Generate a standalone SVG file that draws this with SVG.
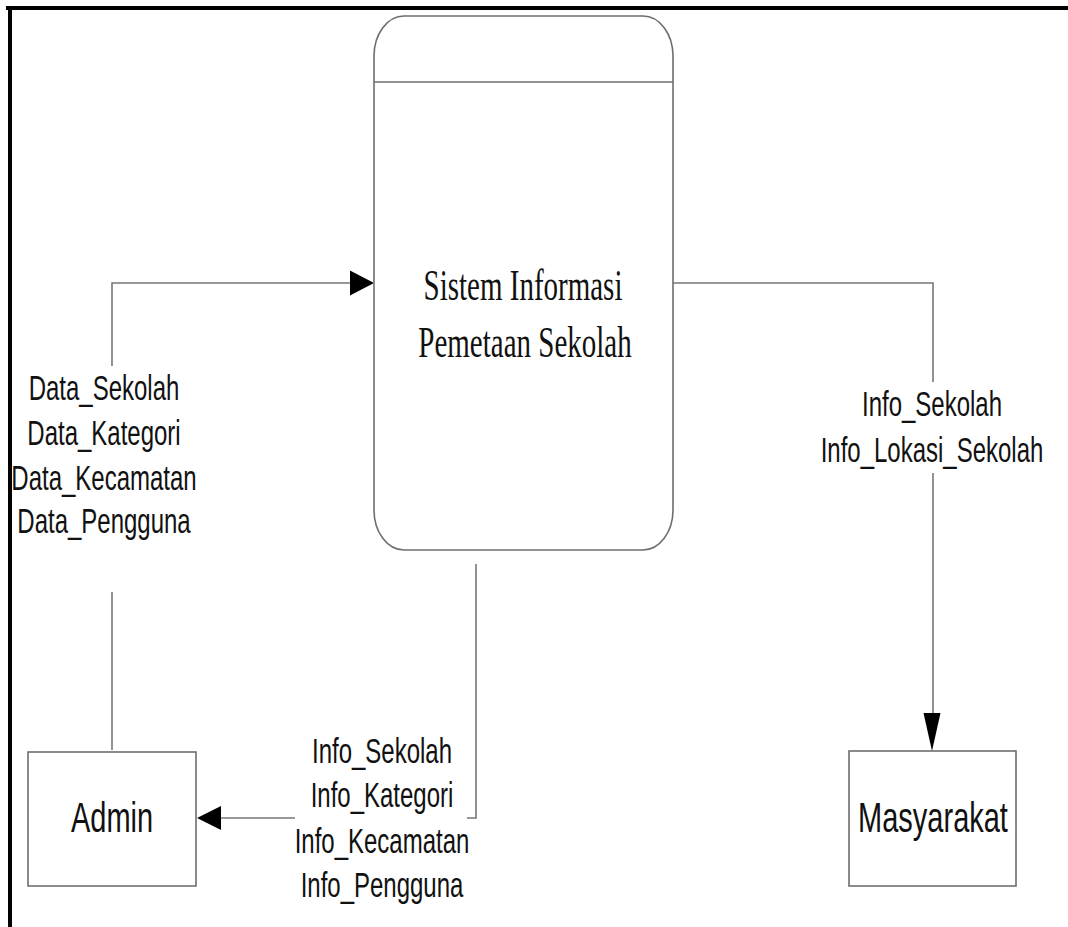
<svg xmlns="http://www.w3.org/2000/svg" width="1068" height="927" viewBox="0 0 1068 927">
<defs>
<style>
.shape{fill:#fff;stroke:#6e6e6e;stroke-width:1.6}
.ln{fill:none;stroke:#777;stroke-width:1.6}
.lbl{font-family:"Liberation Sans",Arial,sans-serif;font-size:24px;fill:#111;text-anchor:middle}
.ent{font-family:"Liberation Sans",Arial,sans-serif;font-size:29px;fill:#111;text-anchor:middle}
.ttl{font-family:"Liberation Serif","Times New Roman",serif;font-size:29px;fill:#111;text-anchor:middle}
.ah{fill:#000}
</style>
</defs>
<rect x="0" y="0" width="1068" height="927" fill="#fff"/>
<g id="frame">
<line x1="6" y1="8" x2="1068" y2="8" stroke="#000" stroke-width="4"/>
<line x1="10" y1="6" x2="10" y2="927" stroke="#000" stroke-width="4"/>
</g>
<g id="connectors">
<!-- Admin to process -->
<polyline class="ln" points="112,750 112,592"/>
<polyline class="ln" points="112,366 112,283 352,283"/>
<polygon class="ah" points="374,283 350,270.5 350,295.5"/>
<!-- process to Admin -->
<polyline class="ln" points="476,564 476,818 467,818"/>
<polyline class="ln" points="295,818 218,818"/>
<polygon class="ah" points="197,818 221,806 221,830"/>
<!-- process to Masyarakat -->
<polyline class="ln" points="673,283 933,283 933,382"/>
<polyline class="ln" points="933,473 933,715"/>
<polygon class="ah" points="932,751 923.5,713 940.5,713"/>
</g>
<g id="process">
<path class="shape" d="M404,16 H643 A30,40 0 0 1 673,56 V510 A30,40 0 0 1 643,550 H404 A30,40 0 0 1 374,510 V56 A30,40 0 0 1 404,16 Z"/>
<line class="shape" x1="374" y1="82" x2="673" y2="82"/>
<text class="ttl" transform="translate(523,300) scale(1,1.5)">Sistem Informasi</text>
<text class="ttl" transform="translate(525,357) scale(1,1.5)">Pemetaan Sekolah</text>
</g>
<g id="admin">
<rect class="shape" x="28" y="752" width="168" height="134"/>
<text class="ent" transform="translate(112,832) scale(1,1.45)">Admin</text>
</g>
<g id="masyarakat">
<rect class="shape" x="849" y="751" width="167" height="135"/>
<text class="ent" transform="translate(933,832) scale(1,1.45)">Masyarakat</text>
</g>
<g id="labels">
<text class="lbl" transform="translate(104,400) scale(1,1.45)">Data_Sekolah</text>
<text class="lbl" transform="translate(104,445) scale(1,1.45)">Data_Kategori</text>
<text class="lbl" transform="translate(104,490) scale(1,1.45)">Data_Kecamatan</text>
<text class="lbl" transform="translate(104,533) scale(1,1.45)">Data_Pengguna</text>
<text class="lbl" transform="translate(382,763) scale(1,1.45)">Info_Sekolah</text>
<text class="lbl" transform="translate(382,807) scale(1,1.45)">Info_Kategori</text>
<text class="lbl" transform="translate(382,853) scale(1,1.45)">Info_Kecamatan</text>
<text class="lbl" transform="translate(382,897) scale(1,1.45)">Info_Pengguna</text>
<text class="lbl" transform="translate(932,416) scale(1,1.45)">Info_Sekolah</text>
<text class="lbl" transform="translate(932,462) scale(1,1.45)">Info_Lokasi_Sekolah</text>
</g>
</svg>
